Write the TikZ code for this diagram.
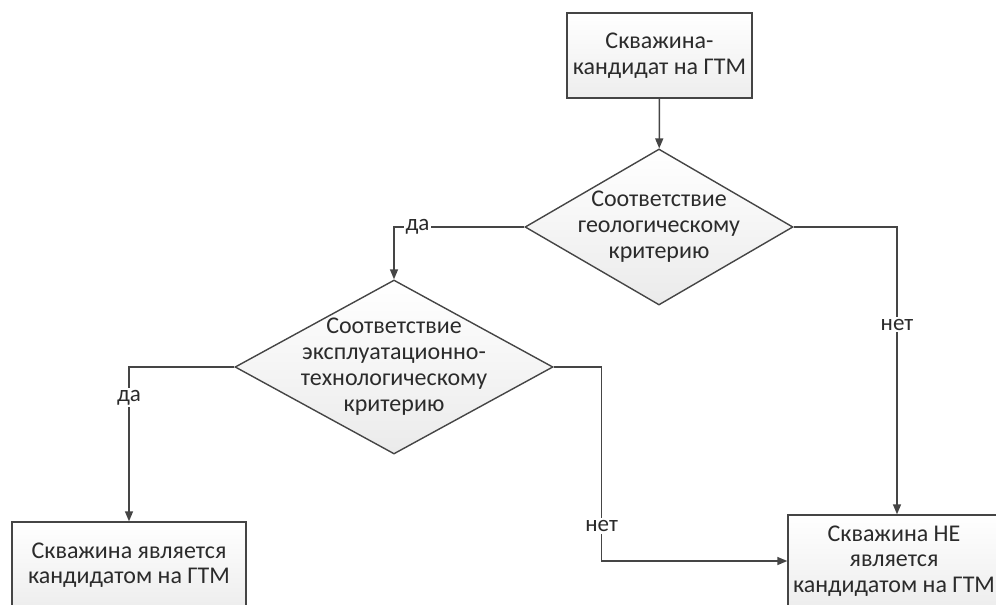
\documentclass[tikz,border=0pt]{standalone}
\usepackage{fontspec}
\setmainfont{Carlito}
\usepackage{tikz}
\usetikzlibrary{arrows.meta,positioning,shapes.geometric}
\definecolor{linegray}{HTML}{454545}
\definecolor{textgray}{HTML}{2B2B2B}
\tikzset{
    %Define standard arrow tip
    >={Triangle[length=10pt,width=8pt]},
    %Define style for boxes
    block/.style={
           rectangle,
           draw=linegray, line width=1.4pt,
           top color=white, bottom color=gray!14,
           font=\fontsize{24}{25.5}\selectfont,
           text=textgray,
           align=center,
           inner sep=0pt},
    decision/.style={
           diamond,
           draw=linegray, line width=1.4pt,
           top color=white, bottom color=gray!16,
           inner sep=0pt},
    % Define style for text inside the diamonds
    dtext/.style={
           font=\fontsize{24}{26}\selectfont,
           text=textgray,
           align=center},
    % Define label style
    lbl/.style={
           fill=white,
           font=\fontsize{23}{24}\selectfont,
           text=textgray,
           inner sep=2pt},
    % Define arrow style
    pil/.style={
           ->,
           draw=linegray,
           line width=1.5pt}
}

\begin{document}
\begin{tikzpicture}[x=1pt,y=-1pt]
\clip (0,0) rectangle (996,605);

 %nodes
\node[block, minimum width=185pt, minimum height=85pt] (start) at (659.5,55.5)
    {Скважина-\\кандидат на ГТМ};
\node[decision, minimum width=268pt, minimum height=156pt,
    label={[dtext]center:Соответствие\\геологическому\\критерию}] (geo) at (659,227) {};
\node[decision, minimum width=318pt, minimum height=174pt,
    label={[dtext]center:Соответствие\\эксплуатационно-\\технологическому\\критерию}] (tech) at (394,367) {};
\node[block, minimum width=234pt, minimum height=86pt] (yes) at (129,565)
    {Скважина является\\кандидатом на ГТМ};
\node[block, minimum width=212pt, minimum height=92pt] (no) at (894,561)
    {Скважина НЕ\\является\\кандидатом на ГТМ};

 %connectors
\draw[pil] (start) -- (geo);
\draw[pil] (geo.west) -| node[lbl, pos=0.41]{да} (tech.north);
\draw[pil] (geo.east) -| node[lbl, pos=0.67]{нет} ([xshift=3pt]no.north);
\draw[pil] (tech.west) -| node[lbl, pos=0.6]{да} (yes.north);
\draw[pil] (tech.east) -- ++(48,0) |- node[lbl, pos=0.41]{нет} (no.west);

\end{tikzpicture}
\end{document}
